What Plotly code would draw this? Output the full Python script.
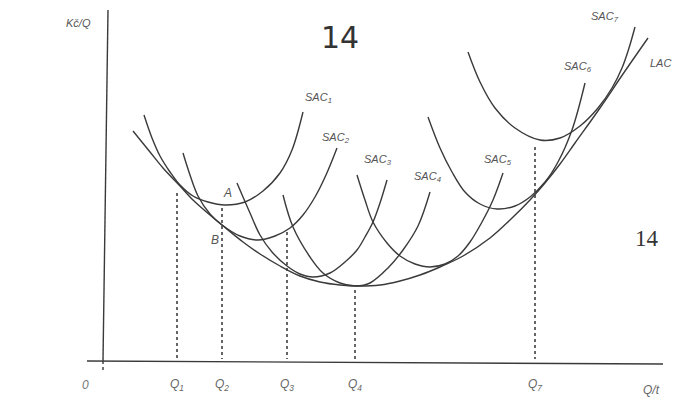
import plotly.graph_objects as go

# ---- data (quantity q, average cost c) ----
lac_q = [31, 48, 61, 78, 91, 108, 120, 141, 158, 178, 198, 218, 238, 256, 278, 298, 318, 338, 361, 388, 408, 428, 443, 458, 473, 498, 521, 546]
lac_c = [230, 209, 193, 175, 161, 146, 136, 119, 107, 95, 85, 79, 76, 75, 76, 80, 86, 94, 105, 123, 141, 161, 178, 197, 218, 253, 287, 323]

sac1_q = [42, 50, 58, 68, 78, 91, 106, 123, 143, 161, 178, 190, 201]
sac1_c = [246, 223, 205, 189, 176, 165, 159, 156, 159, 170, 188, 211, 249]

sac2_q = [81, 88, 96, 108, 120, 138, 156, 173, 188, 201, 213, 224, 235]
sac2_c = [208, 186, 165, 147, 136, 125, 121, 125, 133, 146, 164, 186, 213]

sac3_q = [135, 148, 158, 170, 185, 198, 211, 228, 243, 255, 263, 271, 278, 285]
sac3_c = [178, 148, 126, 109, 95, 87, 84, 88, 99, 111, 124, 139, 158, 181]

sac4_q = [181, 191, 208, 221, 238, 254, 268, 286, 301, 316, 328]
sac4_c = [166, 134, 104, 88, 78, 75, 78, 93, 111, 135, 169]

sac5_q = [255, 263, 271, 285, 298, 313, 328, 343, 356, 368, 380, 391, 401]
sac5_c = [186, 161, 139, 118, 105, 97, 94, 97, 105, 119, 139, 161, 188]

sac6_q = [326, 338, 350, 363, 378, 395, 413, 428, 443, 456, 470, 483]
sac6_c = [244, 213, 189, 169, 157, 152, 155, 164, 179, 199, 231, 278]

sac7_q = [366, 378, 393, 413, 438, 458, 478, 496, 510, 520, 527, 533]
sac7_c = [309, 279, 253, 233, 221, 223, 235, 253, 273, 293, 313, 334]

# quantities marked on the Q axis and the height where each dotted guide starts
q_marks = [75, 120, 185, 253, 433]
q_mark_tops = [168, 153, 129, 71, 214]
q_mark_labels = ["Q<sub>1</sub>", "Q<sub>2</sub>", "Q<sub>3</sub>", "Q<sub>4</sub>", "Q<sub>7</sub>"]

curve_names = ["SAC<sub>1</sub>", "SAC<sub>2</sub>", "SAC<sub>3</sub>", "SAC<sub>4</sub>",
               "SAC<sub>5</sub>", "SAC<sub>6</sub>", "SAC<sub>7</sub>", "LAC"]
label_q = [216, 234, 276, 325, 396, 476, 503, 558]
label_c = [263, 223, 201, 184, 201, 294, 344, 298]

fig = go.Figure()

ink = "#3a3a3a"
txt = "#555555"

# axes
fig.add_trace(go.Scatter(x=[6, 1], y=[351, 0], mode="lines",
                         line=dict(color=ink, width=1.4), hoverinfo="skip"))
fig.add_trace(go.Scatter(x=[1, 1], y=[0, -12], mode="lines",
                         line=dict(color=ink, width=1.4, dash="dot"), hoverinfo="skip"))
fig.add_trace(go.Scatter(x=[-15, 561], y=[0, -3], mode="lines",
                         line=dict(color=ink, width=1.4), hoverinfo="skip"))

# dotted guides
for q, top in zip(q_marks, q_mark_tops):
    fig.add_trace(go.Scatter(x=[q, q], y=[top, 2], mode="lines",
                             line=dict(color="#555555", width=1.8, dash="dot"),
                             hoverinfo="skip"))

# curves
for qs, cs in [(sac1_q, sac1_c), (sac2_q, sac2_c), (sac3_q, sac3_c), (sac4_q, sac4_c),
               (sac5_q, sac5_c), (sac6_q, sac6_c), (sac7_q, sac7_c), (lac_q, lac_c)]:
    fig.add_trace(go.Scatter(x=qs, y=cs, mode="lines",
                             line=dict(color=ink, width=1.4, shape="spline", smoothing=1.0),
                             hoverinfo="skip"))

lab_font = dict(family="Liberation Sans", size=11, color=txt, style="italic")

for name, q, c in zip(curve_names, label_q, label_c):
    fig.add_annotation(x=q, y=c, text=name, showarrow=False, font=lab_font)

# axis texts
fig.add_annotation(x=-24, y=338, text="Kč/Q", showarrow=False, font=lab_font)
fig.add_annotation(x=-17, y=-24, text="0", showarrow=False,
                   font=dict(family="Liberation Sans", size=12, color="#777", style="italic"))
for q, lab in zip(q_marks, q_mark_labels):
    fig.add_annotation(x=q, y=-24, text=lab, showarrow=False,
                       font=dict(family="Liberation Sans", size=12, color="#666", style="italic"))
fig.add_annotation(x=549, y=-29, text="Q/t", showarrow=False,
                   font=dict(family="Liberation Sans", size=12, color="#666", style="italic"))

# point labels
fig.add_annotation(x=125, y=168, text="A", showarrow=False,
                   font=dict(family="Liberation Sans", size=12, color=txt, style="italic"))
fig.add_annotation(x=113, y=121, text="B", showarrow=False,
                   font=dict(family="Liberation Sans", size=12, color=txt, style="italic"))

# page numbers
fig.add_annotation(x=238, y=324, text="14", showarrow=False,
                   font=dict(family="DejaVu Sans", size=30, color="#333"))
fig.add_annotation(x=545, y=123, text="14", showarrow=False,
                   font=dict(family="Liberation Serif", size=23, color="#333"))

# the page body has an 8px margin, so the figure is 8px smaller than the window
fig.update_layout(
    width=678, height=398,
    margin=dict(l=0, r=0, t=0, b=0),
    paper_bgcolor="white", plot_bgcolor="white",
    showlegend=False,
    xaxis=dict(range=[-94, 584], visible=False, fixedrange=True),
    yaxis=dict(range=[-45, 353], visible=False, fixedrange=True),
)

fig.write_html("out.html")
